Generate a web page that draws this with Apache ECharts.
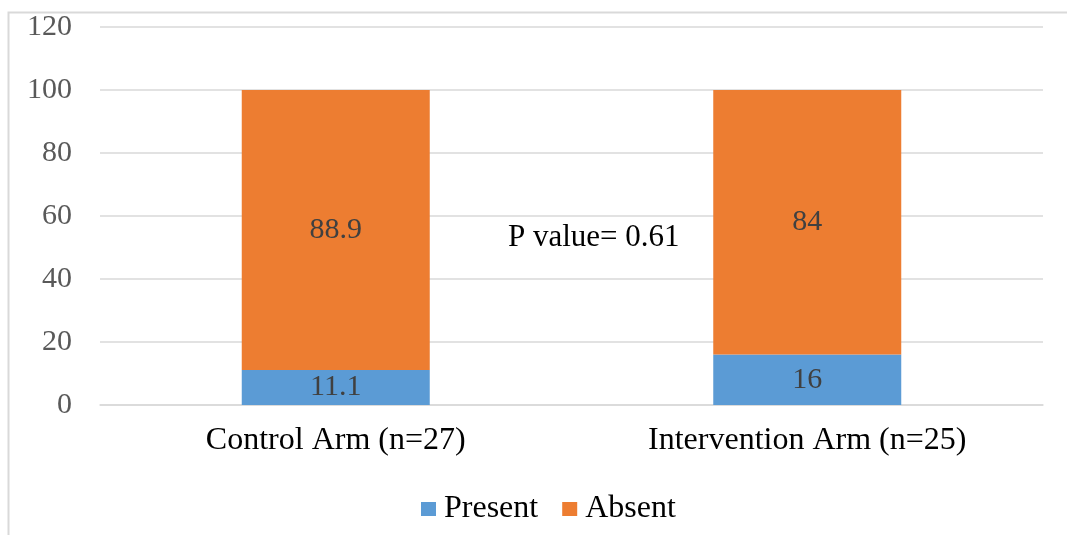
<!DOCTYPE html>
<html>
<head>
<meta charset="utf-8">
<script src="https://cdn.jsdelivr.net/npm/echarts@6/dist/echarts.min.js"></script>
<style>
  html, body { margin: 0; padding: 0; background: #fff; }
  #chart { width: 1067px; height: 535px; }
</style>
</head>
<body>
<div id="chart"></div>
<script>
// Stacked percentage bars: symptom present vs absent per study arm
const categories = ['Control Arm (n=27)', 'Intervention Arm (n=25)'];
const presentValues = [11.1, 16];
const absentValues = [88.9, 84];
const seriesNames = ['Present', 'Absent'];
const pValueText = 'P value= 0.61';
const yTicks = { min: 0, max: 120, interval: 20 };

const FONT = '"Liberation Serif", "Times New Roman", serif';

const chart = echarts.init(document.getElementById('chart'), null, { renderer: 'canvas' });

const barLabel = {
  show: true,
  position: 'inside',
  color: '#404040',
  fontFamily: FONT,
  fontSize: 30
};

chart.setOption({
  animation: false,
  backgroundColor: '#ffffff',
  grid: { left: 100, right: 24, top: 27, bottom: 130 },
  legend: {
    data: seriesNames.map(function (n) { return { name: n, icon: 'rect' }; }),
    left: 416,
    top: 488,
    itemWidth: 15,
    itemHeight: 14,
    itemGap: 24,
    itemStyle: { borderWidth: 0 },
    textStyle: { fontFamily: FONT, fontSize: 32, color: '#000', padding: [0, 0, 0, 3] }
  },
  xAxis: {
    type: 'category',
    data: categories,
    axisLine: { show: true, lineStyle: { color: '#d9d9d9', width: 1.5 } },
    axisTick: { show: false },
    axisLabel: { fontFamily: FONT, fontSize: 32, color: '#000', margin: 20 }
  },
  yAxis: {
    type: 'value',
    min: yTicks.min,
    max: yTicks.max,
    interval: yTicks.interval,
    axisLine: { show: false },
    axisTick: { show: false },
    splitLine: { lineStyle: { color: '#d9d9d9', width: 1.5 } },
    axisLabel: { fontFamily: FONT, fontSize: 30, color: '#595959', margin: 28 }
  },
  series: [
    {
      name: seriesNames[0],
      type: 'bar',
      stack: 'total',
      data: presentValues,
      barWidth: 188,
      itemStyle: { color: '#5B9BD5' },
      label: barLabel
    },
    {
      name: seriesNames[1],
      type: 'bar',
      stack: 'total',
      data: absentValues,
      barWidth: 188,
      itemStyle: { color: '#ED7D31' },
      label: barLabel
    }
  ],
  graphic: [
    {
      type: 'rect',
      left: 6,
      top: 10,
      shape: { width: 1200, height: 700 },
      style: { fill: 'none', stroke: '#d9d9d9', lineWidth: 2 },
      silent: true,
      z: -1
    },
    {
      type: 'text',
      left: 508,
      top: 222,
      style: {
        text: pValueText,
        font: '31px ' + FONT,
        fill: '#000'
      }
    }
  ]
});
</script>
</body>
</html>
